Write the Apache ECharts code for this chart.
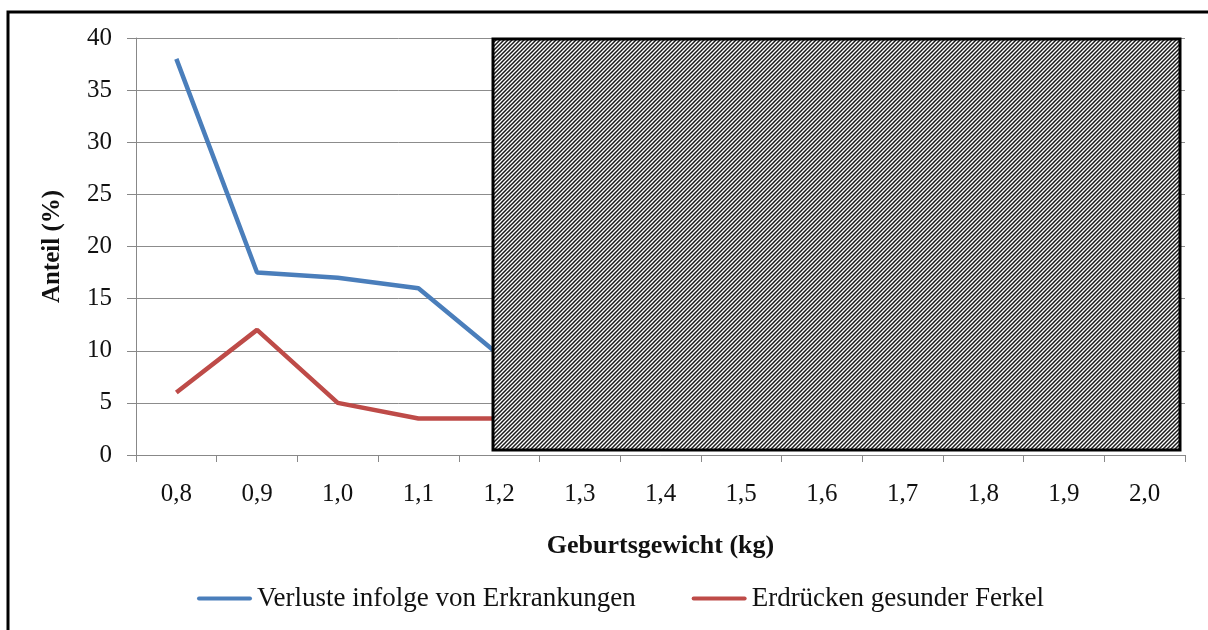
<!DOCTYPE html>
<html>
<head>
<meta charset="utf-8">
<script src="https://cdn.jsdelivr.net/npm/echarts@6/dist/echarts.min.js"></script>
<style>
	html, body { margin: 0; padding: 0; background: #fff; }
	#chart { width: 1208px; height: 630px; }
</style>
</head>
<body>
<div id="chart"></div>
<script>
// Kategorien (Geburtsgewicht in kg)
const categories = ['0,8', '0,9', '1,0', '1,1', '1,2', '1,3', '1,4', '1,5', '1,6', '1,7', '1,8', '1,9', '2,0']
// Werte ab 1,3 sind durch die Schraffur verdeckt
const verlusteErkrankungen = [38, 17.5, 17, 16, 9.6, null, null, null, null, null, null, null, null]
const erdrueckenFerkel = [6, 12, 5, 3.5, 3.5, null, null, null, null, null, null, null, null]
const yTicks = { min: 0, max: 40, interval: 5 }

const FONT = '"Liberation Serif", "DejaVu Serif", serif'
const BLUE = '#4a7ebb'
const RED = '#be4b48'

// Schraffur-Muster (diagonale Linien)
function makeHatch() {
	const s = 4
	const c = document.createElement('canvas')
	c.width = s
	c.height = s
	const ctx = c.getContext('2d')
	ctx.fillStyle = '#fff'
	ctx.fillRect(0, 0, s, s)
	ctx.strokeStyle = '#1a1a1a'
	ctx.lineWidth = 1.5
	ctx.beginPath()
	ctx.moveTo(-1, s + 1)
	ctx.lineTo(s + 1, -1)
	ctx.moveTo(-1, 1)
	ctx.lineTo(1, -1)
	ctx.moveTo(s - 1, s + 1)
	ctx.lineTo(s + 1, s - 1)
	ctx.stroke()
	return c
}

const chart = echarts.init(document.getElementById('chart'))

chart.setOption({
	animation: false,
	backgroundColor: '#fff',
	grid: { left: 136, right: 23, top: 38, bottom: 175 },
	legend: {
		bottom: 13,
		left: 192,
		itemGap: 56,
		itemWidth: 55,
		itemHeight: 10,
		icon: 'path://M2,0 L53,0 A2,2 0 0 1 53,4 L2,4 A2,2 0 0 1 2,0 Z',
		textStyle: { fontFamily: FONT, fontSize: 27, color: '#111', padding: [0, 0, 0, 0] },
		data: ['Verluste infolge von Erkrankungen', 'Erdrücken gesunder Ferkel'],
	},
	xAxis: {
		type: 'category',
		data: categories,
		boundaryGap: true,
		name: 'Geburtsgewicht (kg)',
		nameLocation: 'middle',
		nameGap: 78,
		nameTextStyle: { fontFamily: FONT, fontSize: 26, fontWeight: 'bold', color: '#111' },
		axisLine: { lineStyle: { color: '#888', width: 1 } },
		axisTick: { show: true, length: 7, alignWithLabel: false, lineStyle: { color: '#888' } },
		axisLabel: { fontFamily: FONT, fontSize: 25, color: '#111', margin: 27 },
		splitLine: { show: false },
	},
	yAxis: {
		type: 'value',
		min: yTicks.min,
		max: yTicks.max,
		interval: yTicks.interval,
		name: 'Anteil (%)',
		nameLocation: 'middle',
		nameGap: 71,
		nameTextStyle: { fontFamily: FONT, fontSize: 25, fontWeight: 'bold', color: '#111' },
		axisLine: { show: true, lineStyle: { color: '#888', width: 1 } },
		axisTick: { show: true, length: 9, lineStyle: { color: '#888' } },
		axisLabel: { fontFamily: FONT, fontSize: 25, color: '#111', margin: 24 },
		splitLine: { show: true, lineStyle: { color: '#8c8c8c', width: 1 } },
	},
	series: [
		{
			name: 'Verluste infolge von Erkrankungen',
			type: 'line',
			data: verlusteErkrankungen,
			symbol: 'none',
			color: BLUE,
			lineStyle: { width: 4.5, color: BLUE },
		},
		{
			name: 'Erdrücken gesunder Ferkel',
			type: 'line',
			data: erdrueckenFerkel,
			symbol: 'none',
			color: RED,
			lineStyle: { width: 4.5, color: RED },
		},
	],
	graphic: [
		// Außenrahmen
		{
			type: 'rect',
			z: 100,
			shape: { x: 8, y: 12, width: 1400, height: 800 },
			style: { fill: 'none', stroke: '#000', lineWidth: 3 },
			silent: true,
		},
		// schraffierte Abdeckung
		{
			type: 'rect',
			z: 100,
			shape: { x: 493, y: 39, width: 687, height: 411 },
			style: {
				fill: { image: makeHatch(), repeat: 'repeat' },
				stroke: '#000',
				lineWidth: 3,
			},
			silent: true,
		},
	],
})
</script>
</body>
</html>
